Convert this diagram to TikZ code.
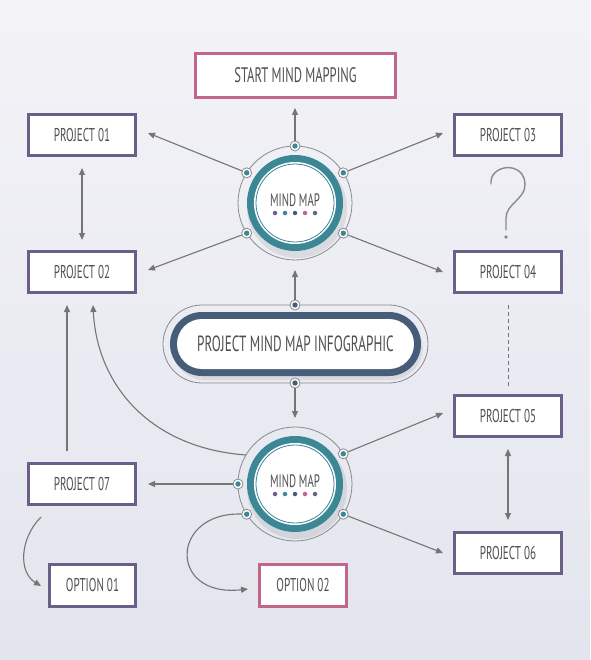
\documentclass[tikz,border=0pt]{standalone}
\usepackage{fontspec}
\setmainfont[FakeStretch=0.6]{PT Sans}
\usetikzlibrary{arrows.meta,calc}
\definecolor{bgtop}{HTML}{F3F3F7}
\definecolor{bgbot}{HTML}{E3E5EE}
\definecolor{purp}{HTML}{6A5F88}
\definecolor{pink}{HTML}{C2658B}
\definecolor{teal}{HTML}{3B8796}
\definecolor{navy}{HTML}{465D79}
\definecolor{txt}{HTML}{505050}
\definecolor{arr}{HTML}{757575}
\definecolor{ring}{HTML}{8A8A8A}
\tikzset{
  box/.style={draw=purp, line width=3pt, fill=white, text=txt, font=\fontsize{18.5}{18.5}\selectfont, minimum width=107pt, minimum height=41pt, inner sep=0pt},
  pbox/.style={box, draw=pink},
  conn/.style={draw=arr, line width=1.1pt, -{Triangle[length=7pt,width=6pt]}},
  dconn/.style={conn, {Triangle[length=7pt,width=6pt]}-{Triangle[length=7pt,width=6pt]}},
  tdot/.style={circle, draw=ring, line width=0.8pt, fill=white, minimum size=10pt, inner sep=0pt, path picture={\fill[teal] (path picture bounding box.center) circle (2.7pt);}},
  ndot/.style={tdot, path picture={\fill[navy] (path picture bounding box.center) circle (2.7pt);}},
  pt/.style={circle, fill=#1, minimum size=4.5pt, inner sep=0pt}
}
\newcommand{\mindmap}[2]{%
  \fill[black, opacity=0.08] ($(#1)+(2,5)$) circle (50pt);
  \fill[teal] (#1) circle (48pt);
  \fill[white] (#1) circle (41pt);
  \draw[teal, line width=0.8pt] (#1) circle (39pt);
  \node[text=txt, font=\fontsize{18}{18}\selectfont] (#2t) at ($(#1)+(0,-3)$) {MIND MAP};
  \node[pt=purp] (#2a) at ($(#1)+(-20,10)$) {};
  \node[pt=teal] (#2b) at ($(#1)+(-10,10)$) {};
  \node[pt=navy] (#2c) at ($(#1)+(0,10)$) {};
  \node[pt=pink] (#2d) at ($(#1)+(10,10)$) {};
  \node[pt=purp] (#2e) at ($(#1)+(20,10)$) {};
}
\begin{document}
\begin{tikzpicture}[x=1pt, y=-1pt]
\shade[top color=bgtop, bottom color=bgbot] (0,0) rectangle (590,660);
\useasboundingbox (0,0) rectangle (590,660);

% boxes
\node[pbox, minimum width=200pt, minimum height=44pt, font=\fontsize{21}{21}\selectfont] (start) at (295.5,75.5) {START MIND MAPPING};
\node[box] (p1) at (82,135) {PROJECT 01};
\node[box] (p2) at (82,272) {PROJECT 02};
\node[box] (p3) at (508,135) {PROJECT 03};
\node[box] (p4) at (508,272) {PROJECT 04};
\node[box] (p5) at (508,416) {PROJECT 05};
\node[box] (p6) at (508,553) {PROJECT 06};
\node[box] (p7) at (82,484) {PROJECT 07};
\node[box, minimum width=86pt, minimum height=42pt] (o1) at (92.5,585.5) {OPTION 01};
\node[pbox, minimum width=87pt, minimum height=42pt] (o2) at (303,585.5) {OPTION 02};

% mind map circles
\coordinate (c1) at (295,203);
\coordinate (c2) at (295,484);
\draw[ring, line width=0.8pt] (c1) circle (57pt);
\draw[ring, line width=0.8pt] (c2) circle (57pt);
\mindmap{c1}{m1}
\mindmap{c2}{m2}

% pill
\draw[ring, line width=0.8pt, rounded corners=39pt] (163,305) rectangle (428,383);
\fill[black, opacity=0.07, rounded corners=33pt] (172,316) rectangle (423,380);
\fill[navy, rounded corners=32pt] (170,312) rectangle (421,376);
\fill[white, rounded corners=25pt] (177,319) rectangle (414,369);
\node[text=txt, font=\fontsize{22}{22}\selectfont] (title) at (295.5,344) {PROJECT MIND MAP INFOGRAPHIC};

% dots
\node[tdot] (d1t) at (295,146) {};
\node[tdot] (d1tl) at (246.7,172.8) {};
\node[tdot] (d1tr) at (343.3,172.8) {};
\node[tdot] (d1bl) at (246.7,233.2) {};
\node[tdot] (d1br) at (343.3,233.2) {};
\node[tdot] (d2tr) at (343.3,453.8) {};
\node[tdot] (d2br) at (343.3,514.2) {};
\node[tdot] (d2bl) at (246.7,514.2) {};
\node[tdot] (d2l) at (238,484) {};
\node[ndot] (pt) at (295,305) {};
\node[ndot] (pb) at (295,383) {};

% end points
\coordinate (eS) at (295,108);
\coordinate (e1) at (148,133);
\coordinate (e3) at (443,133);
\coordinate (e2) at (148,270);
\coordinate (e4) at (443,272);
\coordinate (e5) at (443,413);
\coordinate (e6) at (443,553);
\coordinate (e7) at (148,484);
\coordinate (eM1) at (295,270);
\coordinate (eM2) at (295,418);
\coordinate (eC) at (93,305);
\coordinate (sC) at (246,455);
\coordinate (eL) at (67,305);
\coordinate (sL) at (67,451);
\coordinate (sO1) at (41,517);
\coordinate (eO1) at (41,586);
\coordinate (eO2) at (248,589);
\coordinate (a12) at (82,168);
\coordinate (b12) at (82,240);
\coordinate (a56) at (508,449);
\coordinate (b56) at (508,520);
\coordinate (q1) at (508,305);
\coordinate (q2) at (508,388);

% connectors
\draw[conn] (d1t) -- (eS);
\draw[conn] (d1tl) -- (e1);
\draw[conn] (d1tr) -- (e3);
\draw[conn] (d1bl) -- (e2);
\draw[conn] (d1br) -- (e4);
\draw[conn] (pt) -- (eM1);
\draw[conn] (pb) -- (eM2);
\draw[conn] (d2tr) -- (e5);
\draw[conn] (d2br) -- (e6);
\draw[conn] (d2l) -- (e7);
\draw[conn] (sC) .. controls (150,448) and (97,385) .. (eC);
\draw[conn] (sL) -- (eL);
\draw[conn] (sO1) .. controls (20,538) and (18,572) .. (eO1);
\draw[conn] (d2bl) .. controls (170,512) and (168,598) .. (eO2);
\draw[dconn] (a12) -- (b12);
\draw[dconn] (a56) -- (b56);
\draw[arr, line width=1pt, dash pattern=on 4pt off 3pt] (q1) -- (q2);

% question mark
\draw[ring, line width=1.4pt, line cap=round] (491,184) .. controls (489,164) and (525,160) .. (525,185) .. controls (525,199) and (506,204) .. (506,218) -- (506,230);
\fill[ring] (506,237) circle (1.8pt);
\end{tikzpicture}
\end{document}
